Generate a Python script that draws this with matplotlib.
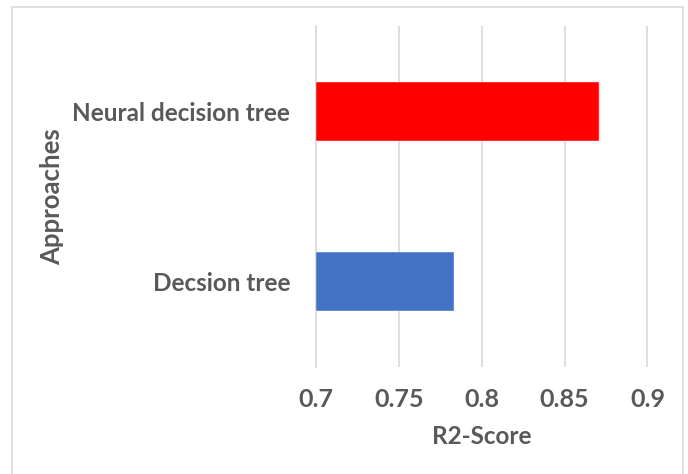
import matplotlib
matplotlib.use("Agg")
import matplotlib.pyplot as plt
import matplotlib.patches as mpatches
import numpy as np

# Data
approaches = ["Decsion tree", "Neural decision tree"]
r2_scores = [0.783, 0.871]
bar_colors = ["#4472C4", "#FF0000"]
x_ticks = [0.7, 0.75, 0.8, 0.85, 0.9]
x_tick_labels = ["0.7", "0.75", "0.8", "0.85", "0.9"]

TEXT = "#595959"
GRID = "#d9d9d9"
FONT = ["Lato", "DejaVu Sans"]

W, H = 688, 474
fig = plt.figure(figsize=(W / 100, H / 100), dpi=100, facecolor="white")

# chart border (Excel style)
border = mpatches.Rectangle((12 / W, -0.05), (683 - 12) / W, 1.05 - 7 / H,
                            transform=fig.transFigure, fill=False,
                            edgecolor=GRID, linewidth=1.2)
fig.add_artist(border)

# plot area
left, right, top, bottom = 316, 647.5, 26, 367
ax = fig.add_axes([left / W, 1 - bottom / H, (right - left) / W, (bottom - top) / H])

y = np.arange(len(approaches))
ax.barh(y, [v - 0.7 for v in r2_scores], left=0.7, height=0.346,
        color=bar_colors, edgecolor="#ffffff", linewidth=0.3, zorder=3)

ax.set_xlim(0.7, 0.9)
ax.set_ylim(-0.5, 1.5)
ax.set_xticks(x_ticks)
ax.set_xticklabels(x_tick_labels, fontsize=18, fontweight="bold",
                   color=TEXT, family=FONT)
ax.set_yticks(y)
ax.set_yticklabels(approaches, fontsize=17.5, fontweight="bold",
                   color=TEXT, family=FONT)
ax.tick_params(axis="x", length=0, pad=15)
ax.tick_params(axis="y", length=0, pad=18.5)

ax.grid(True, axis="x", color=GRID, linewidth=1.2, zorder=0)
for side in ["top", "right", "bottom"]:
    ax.spines[side].set_visible(False)
ax.spines["left"].set_color(GRID)
ax.spines["left"].set_linewidth(1.2)

ax.set_xlabel("R2-Score", fontsize=17.5, fontweight="bold", color=TEXT, family=FONT)
ax.xaxis.set_label_coords(0.5, -0.17)
ax.set_ylabel("Approaches", fontsize=18.5, fontweight="bold", color=TEXT, family=FONT)
ax.yaxis.set_label_coords(-0.76, 0.5)

fig.savefig("out.png", dpi=100, facecolor="white")
